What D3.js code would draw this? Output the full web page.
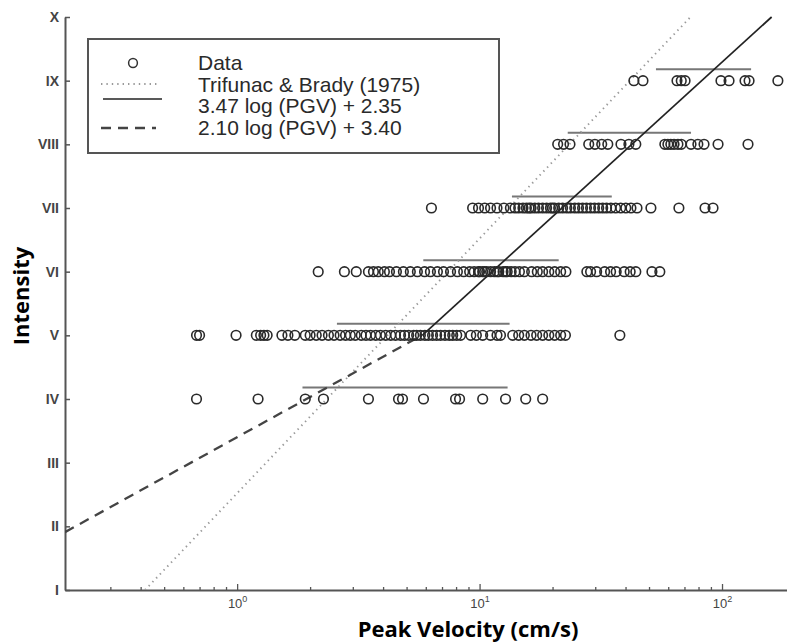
<!DOCTYPE html>
<html>
<head>
<meta charset="utf-8">
<script src="https://cdn.jsdelivr.net/npm/d3@7"></script>
<style>
  body { margin: 0; background: #fff; }
  svg { display: block; }
</style>
</head>
<body>
<svg id="chart" width="787" height="642"></svg>
<script>
// Modified Mercalli intensity labels for the y axis
const intensityLabels = ["I", "II", "III", "IV", "V", "VI", "VII", "VIII", "IX", "X"];

// Observed peak ground velocities (cm/s), grouped by intensity
const pgvIV = [0.68, 1.22, 1.91, 2.27, 3.48, 4.63, 4.81, 5.87, 7.96, 8.27, 10.3, 12.8, 15.5, 18.2];
const pgvV = [0.68, 0.70, 0.99, 1.20, 1.25, 1.29, 1.33, 1.53, 1.62, 1.73, 1.91, 2.00, 2.12, 2.24,
  2.38, 2.51, 2.66, 2.80, 2.93, 3.07, 3.25, 3.40, 3.55, 3.73, 3.90, 4.10, 4.30, 4.50, 4.72, 4.90,
  5.10, 5.35, 5.50, 5.70, 5.95, 6.15, 6.40, 6.65, 6.90, 7.20, 7.50, 7.75, 8.05, 8.35, 9.20, 9.70,
  10.3, 11.1, 11.8, 12.2, 13.7, 14.5, 15.3, 16.3, 17.2, 18.2, 19.3, 20.4, 21.6, 22.6, 37.9];
const pgvVI = [2.16, 2.77, 3.10, 3.48, 3.65, 3.82, 4.05, 4.25, 4.54, 4.85, 5.18, 5.54, 5.93, 6.27,
  6.70, 7.10, 7.59, 8.10, 8.60, 9.10, 9.50, 9.90, 10.0, 10.3, 10.5, 10.7, 11.1, 11.5, 11.8, 12.0,
  12.5, 12.8, 13.0, 13.5, 14.0, 14.6, 15.3, 16.4, 17.3, 18.2, 19.3, 20.4, 21.6, 22.7, 27.7, 28.7,
  30.4, 32.8, 34.7, 36.6, 39.5, 41.8, 44.1, 51.4, 55.4];
const pgvVII = [6.33, 9.36, 9.90, 10.5, 11.1, 11.8, 12.6, 13.4, 14.0, 14.5, 15.1, 15.6, 16.0, 16.3,
  16.9, 17.5, 18.2, 18.9, 19.6, 20.0, 20.4, 21.2, 22.0, 22.9, 23.7, 24.7, 25.6, 26.6, 27.6, 28.7,
  29.8, 31.0, 32.2, 33.4, 34.8, 36.4, 38.2, 40.1, 42.1, 44.6, 50.9, 66.4, 85.1, 91.8];
const pgvVIII = [21.0, 22.2, 23.6, 28.2, 29.9, 31.9, 33.8, 38.3, 41.3, 44.1, 58.1, 59.8, 61.5, 63.4,
  65.8, 67.9, 74.5, 79.5, 84.3, 96.3, 128];
const pgvIX = [43.3, 47.2, 65.2, 67.9, 70.4, 99.0, 106.9, 124.4, 129.3, 170];

const rowIntensity = [4, 5, 6, 7, 8, 9];
const rowValues = [pgvIV, pgvV, pgvVI, pgvVII, pgvVIII, pgvIX];

// Spread of PGV for each intensity (horizontal bars)
const barLow = [1.86, 2.58, 5.86, 13.6, 23.1, 53.4];
const barHigh = [13.05, 13.3, 21.2, 35.1, 74.5, 131.8];

// Regression relations  I = a log(PGV) + b, each valid over an intensity span
const fitNames = ["Trifunac & Brady (1975)", "3.47 log (PGV) + 2.35", "2.10 log (PGV) + 3.40"];
const fitSlopes = [4.0, 3.47, 2.10];
const fitIntercepts = [2.52, 2.35, 3.40];
const fitFrom = [1, 5, 1];
const fitTo = [10, 10, 5];

// Log-axis ticks
const majorTicks = [1, 10, 100];
const minorTicks = [0.3, 0.4, 0.5, 0.6, 0.7, 0.8, 0.9, 2, 3, 4, 5, 6, 7, 8, 9,
  20, 30, 40, 50, 60, 70, 80, 90];

// ---------------------------------------------------------------------------
const svg = d3.select("#chart");
const plotLeft = 65, plotRight = 795, plotTop = 17, plotBottom = 590;

const x = d3.scaleLog().domain([0.195, 200]).range([plotLeft, plotRight]);
const y = d3.scaleLinear().domain([1, 10]).range([plotBottom, plotTop]);

svg.append("rect").attr("width", 787).attr("height", 642).attr("fill", "#fff");

const axisColor = "#555";
const tickFont = "Liberation Sans, Arial, sans-serif";

// x axis: ticks point into the plot, powers of ten labelled with superscripts
const xAxis = d3.axisBottom(x)
  .tickValues(minorTicks.concat(majorTicks))
  .tickSize(-3)
  .tickSizeOuter(0)
  .tickPadding(9)
  .tickFormat(d => majorTicks.includes(d) ? "10" : "");
const gx = svg.append("g").attr("transform", `translate(0,${plotBottom})`).call(xAxis);
gx.select(".domain").attr("stroke", axisColor).attr("stroke-width", 2);
gx.selectAll(".tick line").attr("stroke", axisColor).attr("stroke-width", 1.3)
  .filter(d => majorTicks.includes(d)).attr("y2", -6);
gx.selectAll(".tick text")
  .attr("font-family", tickFont)
  .attr("font-size", 13).attr("fill", "#444")
  .each(function (d) {
    if (!majorTicks.includes(d)) return;
    const t = d3.select(this).text(null);
    t.append("tspan").text("10");
    t.append("tspan").attr("dy", -6).attr("font-size", 9).text(Math.round(Math.log10(d)));
  });

// y axis: roman numeral intensities, ticks pointing right
const yAxis = d3.axisLeft(y)
  .tickValues(d3.range(1, 11))
  .tickSize(-5)
  .tickSizeOuter(0)
  .tickPadding(6)
  .tickFormat(d => intensityLabels[d - 1]);
const gy = svg.append("g").attr("transform", `translate(${plotLeft},0)`).call(yAxis);
gy.select(".domain").attr("stroke", axisColor).attr("stroke-width", 2);
gy.selectAll(".tick line").attr("stroke", axisColor).attr("stroke-width", 1.5);
gy.selectAll(".tick text")
  .attr("font-family", tickFont)
  .attr("font-weight", "bold")
  .attr("font-size", 14).attr("fill", "#444");

// Axis titles
svg.append("text")
  .attr("x", 468).attr("y", 637)
  .attr("text-anchor", "middle")
  .attr("font-family", "Open Sans, sans-serif")
  .attr("font-weight", "bold").attr("font-size", 22)
  .attr("fill", "#000")
  .text("Peak Velocity (cm/s)");
svg.append("text")
  .attr("transform", "translate(29,296) rotate(-90)")
  .attr("text-anchor", "middle")
  .attr("font-family", "Open Sans, sans-serif")
  .attr("font-weight", "bold").attr("font-size", 22)
  .attr("fill", "#000")
  .text("Intensity");

// Plot clip so lines stay inside the axes
svg.append("clipPath").attr("id", "plotClip")
  .append("rect").attr("x", plotLeft).attr("y", 0)
  .attr("width", 787 - plotLeft).attr("height", plotBottom);

const plot = svg.append("g").attr("clip-path", "url(#plotClip)");

// Range bars above each intensity row
plot.selectAll("line.bar")
  .data(rowIntensity)
  .join("line")
  .attr("class", "bar")
  .attr("x1", (d, i) => x(barLow[i]))
  .attr("x2", (d, i) => x(barHigh[i]))
  .attr("y1", d => y(d) - 11.5)
  .attr("y2", d => y(d) - 11.5)
  .attr("stroke", "#777").attr("stroke-width", 2);

// Regression lines
const fitStyles = [
  { stroke: "#9a9a9a", width: 1.9, dash: "1.4,4" },
  { stroke: "#222", width: 1.7, dash: null },
  { stroke: "#444", width: 2.3, dash: "10,7" }
];
const [xMin, xMax] = x.domain();
const line = d3.line().x(d => x(d[0])).y(d => y(d[1]));
fitNames.forEach((name, i) => {
  const a = fitSlopes[i], b = fitIntercepts[i];
  const v0 = Math.max(xMin, Math.pow(10, (fitFrom[i] - b) / a));
  const v1 = Math.min(xMax, Math.pow(10, (fitTo[i] - b) / a));
  const pts = [v0, v1].map(v => [v, a * Math.log10(v) + b]);
  plot.append("path")
    .attr("d", line(pts))
    .attr("fill", "none")
    .attr("stroke", fitStyles[i].stroke)
    .attr("stroke-width", fitStyles[i].width)
    .attr("stroke-dasharray", fitStyles[i].dash);
});

// Data points
const points = rowIntensity.flatMap((I, i) => rowValues[i].map(v => ({ I, v })));
plot.selectAll("circle.pt")
  .data(points)
  .join("circle")
  .attr("class", "pt")
  .attr("cx", d => x(d.v))
  .attr("cy", d => y(d.I))
  .attr("r", 4.8)
  .attr("fill", "none")
  .attr("stroke", "#2a2a2a")
  .attr("stroke-width", 1.6);

// Legend
const legend = svg.append("g");
legend.append("rect")
  .attr("x", 88).attr("y", 39).attr("width", 411).attr("height", 114)
  .attr("fill", "#fff").attr("stroke", "#555").attr("stroke-width", 2);
const legendLabels = ["Data"].concat(fitNames);
const rowY = [70, 92, 113, 135];
legend.selectAll("text")
  .data(legendLabels)
  .join("text")
  .attr("x", 198)
  .attr("y", (d, i) => rowY[i])
  .attr("font-family", tickFont)
  .attr("font-size", 21)
  .attr("fill", "#2a2a2a")
  .text(d => d);
legend.append("circle")
  .attr("cx", 133).attr("cy", 63).attr("r", 4.4)
  .attr("fill", "none").attr("stroke", "#333").attr("stroke-width", 1.5);
const sampleY = [84, 99, 128];
const sampleX = [[101, 158], [103, 162], [101, 156]];
fitStyles.forEach((s, i) => {
  legend.append("line")
    .attr("x1", sampleX[i][0]).attr("x2", sampleX[i][1])
    .attr("y1", sampleY[i]).attr("y2", sampleY[i])
    .attr("stroke", s.stroke).attr("stroke-width", s.width)
    .attr("stroke-dasharray", s.dash);
});
</script>
</body>
</html>
